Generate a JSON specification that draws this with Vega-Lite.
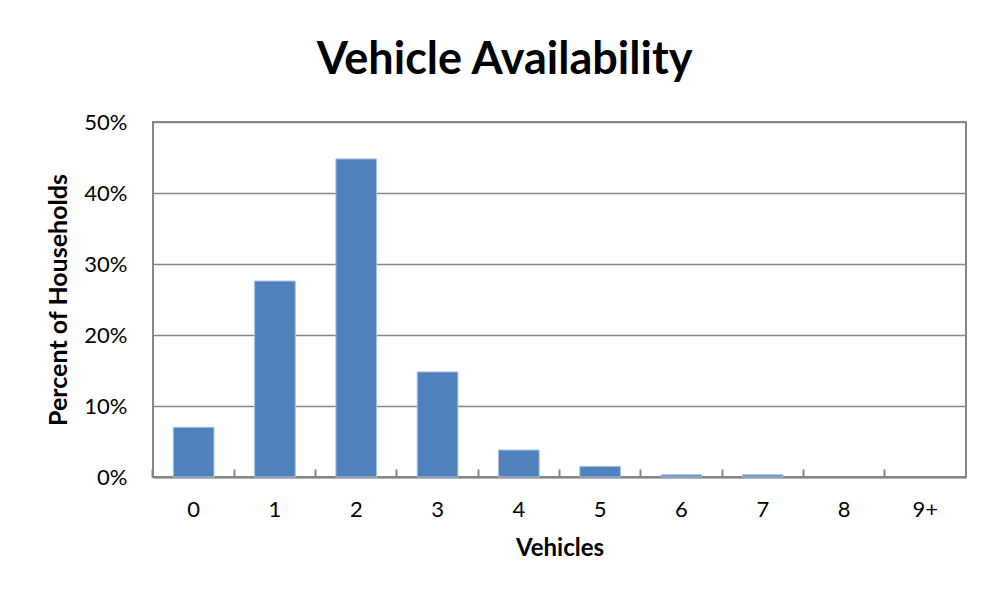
{
  "$schema": "https://vega.github.io/schema/vega-lite/v6.json",
  "autosize": "none",
  "width": 813,
  "height": 355,
  "padding": {"left": 153, "top": 122, "right": 20, "bottom": 121},
  "background": "white",
  "title": {
    "text": "Vehicle Availability",
    "font": "Lato",
    "fontSize": 45,
    "fontWeight": "bold",
    "color": "black",
    "anchor": "middle",
    "offset": 28,
    "dx": -55
  },
  "data": {
    "values": [
      {"vehicles": "0", "pct": 0.070},
      {"vehicles": "1", "pct": 0.276},
      {"vehicles": "2", "pct": 0.448},
      {"vehicles": "3", "pct": 0.148},
      {"vehicles": "4", "pct": 0.038},
      {"vehicles": "5", "pct": 0.015},
      {"vehicles": "6", "pct": 0.003},
      {"vehicles": "7", "pct": 0.003},
      {"vehicles": "8", "pct": 0.0},
      {"vehicles": "9+", "pct": 0.0}
    ]
  },
  "mark": {"type": "bar", "color": "#4F81BD", "strokeWidth": 1},
  "encoding": {
    "x": {
      "field": "vehicles",
      "type": "ordinal",
      "sort": null,
      "scale": {"paddingInner": 0.5, "paddingOuter": 0.25},
      "axis": {
        "title": "Vehicles",
        "labelAngle": 0,
        "bandPosition": -0.5,
        "tickSize": -8,
        "tickColor": "#868686",
        "tickWidth": 2,
        "domainColor": "#868686",
        "domainWidth": 2,
        "labelPadding": 30,
        "titlePadding": 16,
        "titleFontSize": 24
      }
    },
    "y": {
      "field": "pct",
      "type": "quantitative",
      "scale": {"domain": [0, 0.5], "nice": false},
      "axis": {
        "title": "Percent of Households",
        "format": ".0%",
        "values": [0, 0.1, 0.2, 0.3, 0.4, 0.5],
        "ticks": false,
        "grid": true,
        "gridColor": "#868686",
        "gridWidth": 1.5,
        "domain": false,
        "labelPadding": 26,
        "titlePadding": 12,
        "titleFontSize": 25
      }
    },
    "stroke": {
      "condition": {"test": "datum.pct > 0", "value": "#A9C1DF"},
      "value": null
    }
  },
  "config": {
    "view": {"stroke": "#868686", "strokeWidth": 2},
    "axis": {
      "labelFont": "Lato",
      "labelFontSize": 22,
      "labelColor": "black",
      "titleFont": "Lato",
      "titleFontWeight": "bold",
      "titleColor": "black"
    }
  }
}
